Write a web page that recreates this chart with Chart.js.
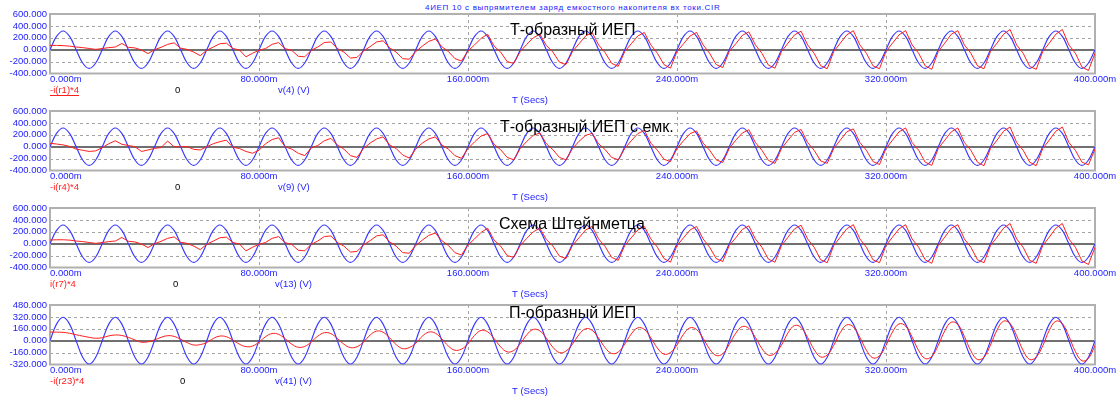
<!DOCTYPE html>
<html>
<head>
<meta charset="utf-8">
<script src="https://cdn.jsdelivr.net/npm/chart.js@4.4.1/dist/chart.umd.min.js"></script>
<style>
  body { margin: 0; background: #fff; width: 1117px; height: 396px; overflow: hidden; position: relative; }
  canvas { position: absolute; left: 0; }
  #cirTitle {
    position: absolute; left: 425px; top: 3px;
    font: 8px "Liberation Sans", Arial, sans-serif; letter-spacing: 0.68px;
    color: #2020ff; white-space: nowrap;
  }
</style>
</head>
<body>
<div id="cirTitle">4ИЕП 10 с выпрямителем заряд емкостного накопителя вх токи.CIR</div>
<canvas id="p0"></canvas>
<canvas id="p1"></canvas>
<canvas id="p2"></canvas>
<canvas id="p3"></canvas>
<script>
// time, ms (sampled every 2.5 ms)
const timeMs = [
  0,2.5,5,7.5,10,12.5,15,17.5, 20,22.5,25,27.5,30,32.5,35,37.5,
  40,42.5,45,47.5,50,52.5,55,57.5, 60,62.5,65,67.5,70,72.5,75,77.5,
  80,82.5,85,87.5,90,92.5,95,97.5, 100,102.5,105,107.5,110,112.5,115,117.5,
  120,122.5,125,127.5,130,132.5,135,137.5, 140,142.5,145,147.5,150,152.5,155,157.5,
  160,162.5,165,167.5,170,172.5,175,177.5, 180,182.5,185,187.5,190,192.5,195,197.5,
  200,202.5,205,207.5,210,212.5,215,217.5, 220,222.5,225,227.5,230,232.5,235,237.5,
  240,242.5,245,247.5,250,252.5,255,257.5, 260,262.5,265,267.5,270,272.5,275,277.5,
  280,282.5,285,287.5,290,292.5,295,297.5, 300,302.5,305,307.5,310,312.5,315,317.5,
  320,322.5,325,327.5,330,332.5,335,337.5, 340,342.5,345,347.5,350,352.5,355,357.5,
  360,362.5,365,367.5,370,372.5,375,377.5, 380,382.5,385,387.5,390,392.5,395,397.5,
  400
];

// source voltage v(4) / v(9) / v(13) / v(41), V
const vSource = [
  0,223,315,223,0,-223,-315,-223, 0,223,315,223,0,-223,-315,-223,
  0,223,315,223,0,-223,-315,-223, 0,223,315,223,0,-223,-315,-223,
  0,223,315,223,0,-223,-315,-223, 0,223,315,223,0,-223,-315,-223,
  0,223,315,223,0,-223,-315,-223, 0,223,315,223,0,-223,-315,-223,
  0,223,315,223,0,-223,-315,-223, 0,223,315,223,0,-223,-315,-223,
  0,223,315,223,0,-223,-315,-223, 0,223,315,223,0,-223,-315,-223,
  0,223,315,223,0,-223,-315,-223, 0,223,315,223,0,-223,-315,-223,
  0,223,315,223,0,-223,-315,-223, 0,223,315,223,0,-223,-315,-223,
  0,223,315,223,0,-223,-315,-223, 0,223,315,223,0,-223,-315,-223,
  0,223,315,223,0,-223,-315,-223, 0,223,315,223,0,-223,-315,-223,
  0
];

// -i(r1)*4
const iR1 = [
  73,72,68,60,45,35,20,5, 20,35,45,105,40,30,-5,-65,
  0,40,90,115,25,5,-40,-100, -10,45,100,110,20,-5,-120,-60,
  -10,20,90,120,17,-10,-110,-120, -10,45,120,130,20,-40,-140,-130,
  -20,50,130,150,30,-40,-150,-160, -30,60,140,180,50,-30,-150,-190,
  -20,80,190,260,60,-40,-200,-230, -30,90,200,260,70,-40,-210,-250,
  -30,100,230,290,80,-50,-230,-280, -30,100,230,290,80,-60,-250,-310,
  -30,100,230,290,80,-60,-250,-300, -30,100,240,300,80,-60,-260,-310,
  -30,110,250,310,80,-60,-270,-320, -30,110,250,320,80,-60,-270,-320,
  -30,110,250,320,80,-60,-270,-330, -30,110,260,320,80,-60,-270,-320,
  -30,110,260,340,80,-60,-280,-330, -30,110,260,340,80,-60,-290,-350,
  -60
];

// -i(r4)*4
const iR4 = [
  57,45,30,5,-40,-60,-80,-70, -15,50,100,40,20,0,-80,-55,
  -28,-15,95,0,0,0,-44,-55, 0,50,85,110,-10,-30,-80,-110,
  -60,50,120,150,0,-40,-110,-150, -20,20,100,140,30,-40,-150,-180,
  -30,60,130,165,30,-30,-140,-190, -40,60,130,165,30,-40,-150,-195,
  -30,80,180,220,40,-50,-180,-220, -30,90,190,230,50,-50,-180,-220,
  -30,90,190,225,50,-50,-180,-220, -30,100,220,275,60,-60,-210,-250,
  -30,100,220,265,60,-60,-220,-265, -30,110,230,285,70,-60,-230,-280,
  -30,110,240,290,70,-60,-240,-280, -30,110,250,300,70,-60,-250,-300,
  -30,110,250,315,70,-60,-260,-315, -30,110,250,315,70,-60,-260,-320,
  -30,110,260,330,70,-60,-260,-320, -30,110,260,330,70,-60,-260,-305,
  -40
];

// i(r7)*4
const iR7 = [
  62,66,66,60,45,35,20,5, 20,35,45,105,40,30,-5,-65,
  0,40,90,115,25,5,-40,-100, -10,45,100,110,20,-5,-120,-60,
  -10,20,90,120,17,-10,-110,-120, -10,45,120,130,20,-40,-140,-130,
  -20,50,130,150,30,-40,-150,-160, -30,60,140,180,50,-30,-150,-190,
  -20,80,190,260,60,-40,-200,-230, -30,90,200,260,70,-40,-210,-250,
  -30,100,230,290,80,-50,-230,-280, -30,100,230,290,80,-60,-250,-310,
  -30,100,230,290,80,-60,-250,-300, -30,100,240,300,80,-60,-260,-310,
  -30,110,250,310,80,-60,-270,-320, -30,110,250,320,80,-60,-270,-320,
  -30,110,250,320,80,-60,-270,-330, -30,110,260,320,80,-60,-270,-320,
  -30,110,260,340,80,-60,-280,-330, -30,110,260,340,80,-60,-290,-350,
  -60
];

// -i(r23)*4
const iR23 = [
  115,115,112,100,80,62,45,33, 40,65,77,70,45,10,-20,-15,
  10,45,68,58,20,-25,-58,-52, -25,30,62,53,8,-47,-80,-72,
  -20,54,96,85,26,-46,-88,-77, -17,61,107,95,31,-47,-93,-81,
  -17,74,129,114,39,-52,-107,-92, -35,60,116,101,23,-72,-128,-113,
  -40,71,138,120,28,-83,-150,-132, -41,80,152,132,33,-88,-160,-140,
  -46,83,160,140,34,-95,-172,-152, -46,91,173,151,38,-99,-181,-159,
  -58,87,173,150,32,-113,-199,-176, -48,101,190,167,44,-105,-194,-171,
  -58,106,204,178,44,-120,-218,-192, -62,110,213,186,44,-128,-231,-204,
  -63,118,226,198,49,-132,-240,-212, -62,133,249,218,58,-137,-253,-222,
  -57,143,263,231,67,-133,-253,-221, -68,139,262,230,60,-147,-270,-238,
  -64
];

const xTicks = [0, 80, 160, 240, 320, 400];
const yTicksTee = [-400, -200, 0, 200, 400, 600];
const yTicksPi = [-320, -160, 0, 160, 320, 480];

const panelTitles = ['Т-образный ИЕП', 'Т-образный ИЕП с емк.', 'Схема Штейнметца', 'П-образный ИЕП'];
const currentNames = ['-i(r1)*4', '-i(r4)*4', 'i(r7)*4', '-i(r23)*4'];
const voltNames = ['v(4) (V)', 'v(9) (V)', 'v(13) (V)', 'v(41) (V)'];

const BLUE = '#2222ff';
const WAVE_BLUE = '#3a3aff';
const RED = '#ff1e1e';
const FONT = '"Liberation Sans", Arial, sans-serif';

function makePanel(idx, current, yTicks, look) {
  const canvas = document.getElementById('p' + idx);
  canvas.width = 1117;
  canvas.height = 104;
  canvas.style.width = '1117px';
  canvas.style.height = '104px';
  canvas.style.top = (look.plotTop - 10) + 'px';

  const decor = {
    id: 'decor' + idx,
    beforeDatasetsDraw(chart) {
      const { ctx, chartArea: a, scales: { x, y } } = chart;
      ctx.save();
      ctx.lineWidth = 1;
      ctx.strokeStyle = '#a4a4a4';
      ctx.setLineDash([3, 3]);
      yTicks.forEach(v => {
        if (v === 0 || v === y.min || v === y.max) return;
        const py = Math.round(y.getPixelForValue(v)) + 0.5;
        ctx.beginPath(); ctx.moveTo(a.left, py); ctx.lineTo(a.right, py); ctx.stroke();
      });
      xTicks.forEach(v => {
        if (v === x.min || v === x.max) return;
        const px = Math.round(x.getPixelForValue(v)) + 0.5;
        ctx.beginPath(); ctx.moveTo(px, a.top); ctx.lineTo(px, a.bottom); ctx.stroke();
      });
      ctx.setLineDash([]);
      ctx.strokeStyle = '#707070';
      ctx.lineWidth = 2;
      const zy = Math.round(y.getPixelForValue(0));
      ctx.beginPath(); ctx.moveTo(a.left, zy); ctx.lineTo(a.right, zy); ctx.stroke();
      ctx.strokeStyle = '#b0b0b0';
      ctx.lineWidth = 2;
      ctx.strokeRect(a.left, a.top, a.right - a.left, a.bottom - a.top);
      ctx.restore();
    },
    afterDraw(chart) {
      const { ctx, chartArea: a, scales: { x } } = chart;
      ctx.save();
      ctx.textBaseline = 'middle';
      ctx.font = '9.5px ' + FONT;
      ctx.fillStyle = BLUE;
      xTicks.forEach((v, i) => {
        ctx.textAlign = i === 0 ? 'left' : 'center';
        ctx.fillText(v.toFixed(3) + 'm', x.getPixelForValue(v), a.bottom + 6);
      });
      ctx.textAlign = 'left';
      const ly = a.bottom + 16.5;
      ctx.fillStyle = RED;
      ctx.fillText(current.name, 50, ly);
      if (look.underline) {
        const w = ctx.measureText(current.name).width;
        ctx.fillRect(50, ly + 5, w, 1);
      }
      ctx.fillStyle = '#000';
      ctx.fillText('0', look.zeroX, ly);
      ctx.fillStyle = BLUE;
      ctx.fillText(voltNames[idx], look.voltX, ly);
      ctx.fillText('T (Secs)', 512, a.bottom + 26.5);

      ctx.fillStyle = '#000';
      ctx.font = '16px ' + FONT;
      ctx.fillText(panelTitles[idx], look.titleX, a.top + look.titleDy);
      ctx.restore();
    }
  };

  const chart = new Chart(canvas, {
    type: 'line',
    data: {
      datasets: [{
        label: current.name,
        data: timeMs.map((t, i) => ({ x: t, y: current.values[i] })),
        borderColor: RED,
        borderWidth: 1,
        pointRadius: 0,
        tension: look.smoothCurrent ? 0.4 : 0
      }, {
        label: voltNames[idx],
        data: timeMs.map((t, i) => ({ x: t, y: vSource[i] })),
        borderColor: WAVE_BLUE,
        borderWidth: 1.15,
        pointRadius: 0,
        tension: 0.4
      }]
    },
    options: {
      responsive: false,
      animation: false,
      devicePixelRatio: 1,
      layout: { padding: { top: 10, right: 22, left: 0, bottom: 0 } },
      plugins: { legend: { display: false }, tooltip: { enabled: false } },
      scales: {
        x: {
          type: 'linear', min: 0, max: 400,
          ticks: { display: false },
          grid: { display: false, drawTicks: false },
          border: { display: false },
          afterFit: s => { s.height = 34.5; }
        },
        y: {
          min: yTicks[0], max: yTicks[yTicks.length - 1],
          afterBuildTicks: s => { s.ticks = yTicks.map(v => ({ value: v })); },
          ticks: {
            autoSkip: false,
            callback: v => v.toFixed(3),
            color: BLUE, padding: 3,
            font: { family: FONT, size: 9.5 }
          },
          grid: { display: false, drawTicks: false },
          border: { display: false },
          afterFit: s => { s.width = 50; }
        }
      }
    },
    plugins: [decor]
  });

  canvas.style.top = (look.plotTop - chart.chartArea.top) + 'px';
  return chart;
}

makePanel(0, { name: currentNames[0], values: iR1 }, yTicksTee,
  { plotTop: 14, titleX: 510, titleDy: 17, zeroX: 175, voltX: 278, underline: true, smoothCurrent: false });
makePanel(1, { name: currentNames[1], values: iR4 }, yTicksTee,
  { plotTop: 111, titleX: 500, titleDy: 17, zeroX: 175, voltX: 278, underline: false, smoothCurrent: false });
makePanel(2, { name: currentNames[2], values: iR7 }, yTicksTee,
  { plotTop: 208, titleX: 499, titleDy: 17, zeroX: 173, voltX: 275, underline: false, smoothCurrent: false });
makePanel(3, { name: currentNames[3], values: iR23 }, yTicksPi,
  { plotTop: 305, titleX: 509, titleDy: 9, zeroX: 180, voltX: 275, underline: false, smoothCurrent: true });
</script>
</body>
</html>
